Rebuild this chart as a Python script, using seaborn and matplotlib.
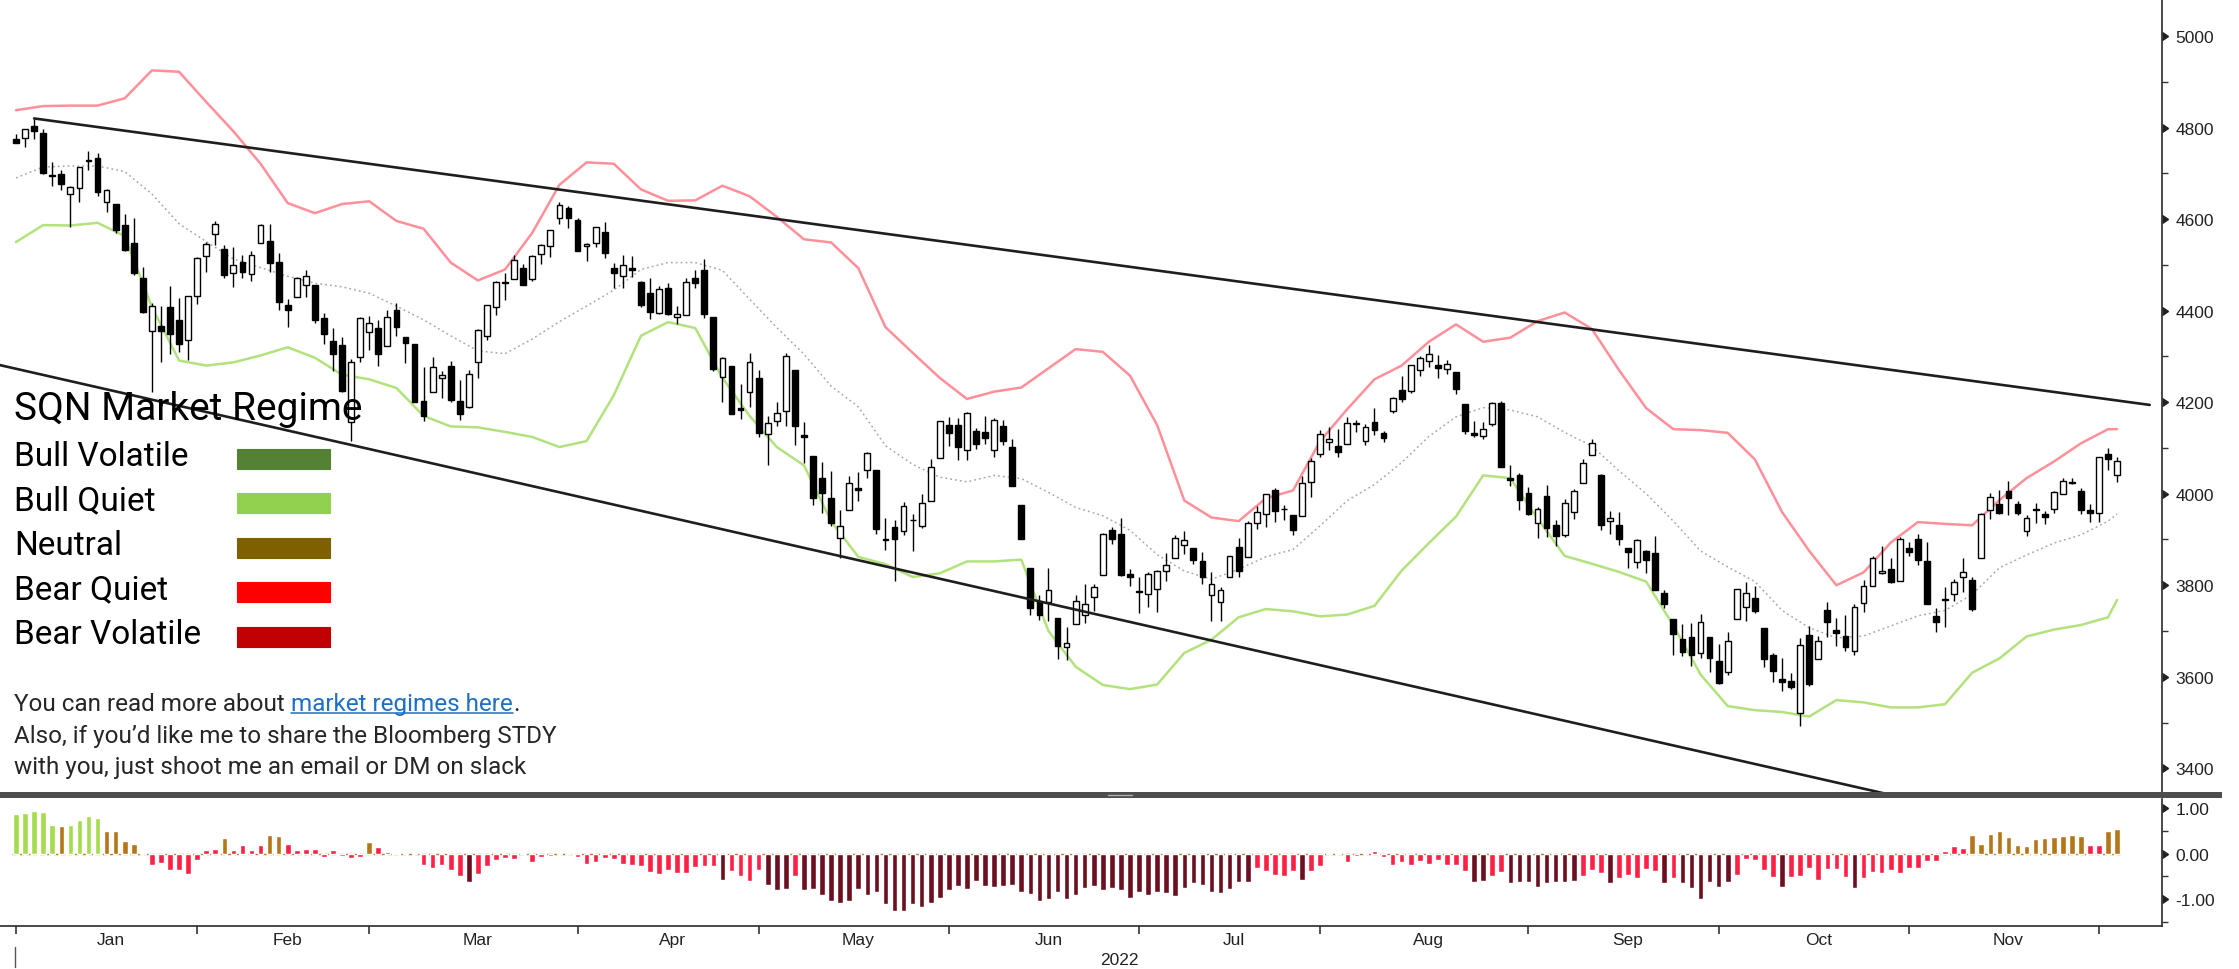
import numpy as np
import matplotlib
matplotlib.use("Agg")
import matplotlib.pyplot as plt
import seaborn as sns
from matplotlib.patches import Rectangle
from matplotlib.lines import Line2D
from matplotlib.ticker import MultipleLocator

# sessions per month: Dec-31-2021, Jan..Nov 2022, Dec 1-2
month_sessions = [1, 20, 19, 23, 20, 21, 21, 20, 23, 21, 21, 21, 2]
month_labels = ["Jan", "Feb", "Mar", "Apr", "May", "Jun", "Jul", "Aug", "Sep", "Oct", "Nov"]

opens = [4775.2,
    4778.1, 4804.5, 4788.0, 4693.4, 4697.7, 4655.3, 4669.1, 4728.6, 4733.6, 4638.0, 4632.2, 4588.0, 4547.4, 4471.4, 4356.3, 4366.6, 4408.4, 4380.6, 4336.2, 4431.8,
    4519.6, 4566.4, 4535.4, 4482.8, 4505.8, 4480.0, 4547.0, 4553.2, 4506.3, 4412.6, 4429.3, 4455.8, 4456.1, 4384.6, 4332.7, 4324.9, 4155.8, 4298.4, 4354.2,
    4363.1, 4322.6, 4401.3, 4342.1, 4327.0, 4202.7, 4223.1, 4252.6, 4279.5, 4202.8, 4188.8, 4288.1, 4345.1, 4407.3, 4462.4, 4469.1, 4493.1, 4470.0, 4522.9, 4541.1, 4602.9, 4624.2, 4599.0,
    4540.3, 4548.0, 4572.5, 4494.2, 4474.7, 4494.2, 4462.6, 4437.6, 4394.3, 4449.1, 4385.6, 4390.6, 4472.3, 4489.2, 4385.8, 4255.3, 4278.1, 4186.5, 4222.6, 4253.8,
    4130.6, 4159.8, 4181.2, 4270.4, 4128.2, 4081.3, 4035.2, 3990.1, 3904.0, 3963.9, 4013.0, 4052.0, 4052.0, 3899.0, 3927.8, 3919.4, 3942.9, 3929.6, 3984.6, 4077.4, 4151.1,
    4149.8, 4095.4, 4137.6, 4134.7, 4096.5, 4147.1, 4101.7, 3974.4, 3838.2, 3763.5, 3764.1, 3728.2, 3665.9, 3715.3, 3733.9, 3774.7, 3821.8, 3920.8, 3913.0, 3825.1, 3786.0,
    3781.0, 3792.6, 3832.0, 3858.9, 3888.3, 3880.9, 3852.0, 3779.7, 3764.0, 3818.0, 3883.8, 3860.7, 3935.3, 3955.5, 4007.4, 3965.7, 3953.2, 3951.4, 4026.1, 4087.3,
    4112.4, 4104.2, 4108.0, 4154.9, 4115.9, 4155.9, 4133.1, 4181.0, 4227.4, 4225.0, 4269.4, 4290.5, 4280.4, 4273.1, 4266.3, 4195.1, 4133.1, 4126.6, 4153.3, 4198.7, 4034.6, 4041.3, 4000.7,
    3936.7, 3994.7, 3930.9, 3909.4, 3959.9, 4022.9, 4083.7, 4041.2, 3940.7, 3932.2, 3881.0, 3849.9, 3875.2, 3871.4, 3782.4, 3727.1, 3682.7, 3686.4, 3651.9, 3687.0, 3633.5,
    3609.8, 3726.5, 3753.3, 3772.0, 3706.7, 3647.5, 3595.9, 3590.8, 3520.4, 3690.4, 3638.7, 3746.3, 3703.1, 3689.1, 3657.1, 3762.0, 3799.4, 3826.0, 3834.7, 3808.3, 3881.9,
    3901.8, 3852.9, 3733.3, 3767.0, 3780.7, 3817.0, 3810.9, 3859.9, 3963.7, 3978.0, 4006.4, 3976.8, 3919.3, 3966.4, 3956.2, 3965.5, 4000.3, 4023.3, 4005.4, 3964.2, 3957.2,
    4087.1, 4040.2]

highs = [4786.8,
    4796.6, 4818.6, 4797.7, 4725.0, 4708.0, 4673.0, 4714.1, 4748.8, 4744.1, 4665.1, 4632.2, 4611.6, 4602.1, 4494.5, 4417.4, 4411.0, 4453.2, 4428.7, 4432.7, 4516.9,
    4550.5, 4595.3, 4542.9, 4539.7, 4521.9, 4531.3, 4590.0, 4588.9, 4526.3, 4426.2, 4472.8, 4489.6, 4456.1, 4394.6, 4362.1, 4341.5, 4294.7, 4385.3, 4388.8,
    4378.5, 4401.5, 4416.8, 4342.1, 4327.0, 4276.9, 4299.4, 4268.3, 4291.0, 4247.6, 4271.1, 4358.9, 4412.7, 4465.4, 4481.8, 4522.0, 4501.1, 4520.6, 4546.0, 4575.7, 4637.3, 4627.8, 4603.1,
    4548.7, 4583.5, 4593.5, 4503.9, 4521.2, 4520.4, 4464.4, 4471.0, 4453.9, 4460.5, 4410.3, 4471.0, 4488.3, 4512.9, 4385.8, 4299.0, 4278.1, 4240.7, 4308.5, 4269.7,
    4169.8, 4200.1, 4307.7, 4270.4, 4157.7, 4081.3, 4068.8, 4049.1, 3964.8, 4038.9, 4046.5, 4090.7, 4052.0, 3946.0, 3943.4, 3981.9, 3955.7, 3999.3, 4075.1, 4158.5, 4168.3,
    4166.5, 4177.5, 4142.7, 4168.8, 4164.9, 4160.1, 4119.1, 3974.4, 3838.2, 3778.2, 3837.6, 3728.2, 3707.7, 3779.7, 3801.8, 3802.6, 3913.7, 3927.7, 3945.9, 3836.5, 3819.0,
    3829.8, 3832.2, 3870.9, 3910.6, 3918.5, 3880.9, 3873.4, 3829.4, 3796.4, 3863.6, 3902.4, 3939.8, 3974.1, 3999.3, 4012.4, 3975.3, 3953.2, 4039.6, 4079.0, 4140.2,
    4145.0, 4140.5, 4167.7, 4161.3, 4151.6, 4186.6, 4137.3, 4211.0, 4257.9, 4280.5, 4301.8, 4325.3, 4302.2, 4292.5, 4266.3, 4195.1, 4159.8, 4156.6, 4200.5, 4203.0, 4063.0, 4045.0, 4015.4,
    3970.2, 4018.4, 3942.6, 3987.9, 4010.5, 4076.8, 4119.3, 4043.0, 3961.9, 3959.3, 3881.0, 3900.5, 3876.0, 3907.1, 3790.2, 3727.1, 3715.7, 3717.5, 3736.7, 3687.0, 3671.4,
    3698.4, 3791.9, 3806.9, 3797.9, 3706.7, 3652.2, 3640.7, 3608.3, 3685.4, 3712.0, 3689.7, 3762.8, 3728.6, 3736.0, 3757.9, 3810.7, 3862.8, 3886.2, 3860.0, 3905.4, 3893.7,
    3911.8, 3894.4, 3750.6, 3796.3, 3814.0, 3859.4, 3818.2, 3958.3, 4001.5, 4009.0, 4028.8, 3983.1, 3954.3, 3979.9, 3962.0, 4005.9, 4033.8, 4034.0, 4012.3, 3976.8, 4080.1,
    4100.5, 4080.5]

lows = [4765.8,
    4758.2, 4774.3, 4699.4, 4671.3, 4662.7, 4582.2, 4638.3, 4706.7, 4650.3, 4614.8, 4568.7, 4530.2, 4478.0, 4395.3, 4222.6, 4287.1, 4304.8, 4309.5, 4292.5, 4414.0,
    4483.5, 4544.3, 4470.4, 4451.5, 4471.5, 4465.4, 4547.0, 4484.3, 4401.4, 4364.8, 4429.3, 4429.7, 4373.8, 4327.2, 4267.1, 4221.5, 4114.7, 4286.8, 4315.1,
    4279.5, 4322.6, 4345.6, 4285.0, 4199.9, 4157.9, 4223.1, 4209.8, 4200.5, 4161.7, 4187.9, 4252.0, 4335.7, 4390.6, 4424.3, 4469.1, 4455.8, 4465.2, 4501.1, 4517.7, 4589.7, 4581.3, 4530.4,
    4507.6, 4539.2, 4514.2, 4450.0, 4450.3, 4474.6, 4408.4, 4381.3, 4392.7, 4390.8, 4370.3, 4390.6, 4448.8, 4384.5, 4267.6, 4200.8, 4175.0, 4162.9, 4188.6, 4124.3,
    4062.5, 4147.1, 4148.9, 4106.0, 4067.9, 3975.5, 3958.2, 3928.8, 3858.9, 3963.9, 3984.0, 4033.9, 3911.9, 3876.6, 3810.3, 3909.0, 3875.1, 3925.0, 3984.6, 4077.4, 4104.9,
    4073.9, 4074.4, 4098.7, 4109.2, 4080.2, 4107.2, 4017.2, 3900.2, 3734.3, 3724.1, 3722.3, 3639.8, 3636.9, 3715.3, 3717.7, 3743.5, 3821.8, 3889.7, 3820.1, 3799.0, 3738.7,
    3752.1, 3742.1, 3809.4, 3858.9, 3869.3, 3847.2, 3802.4, 3721.6, 3721.6, 3817.2, 3818.6, 3860.7, 3922.0, 3927.6, 3938.9, 3943.5, 3910.7, 3951.4, 3993.0, 4079.2,
    4096.0, 4079.8, 4108.0, 4135.4, 4107.3, 4129.0, 4112.1, 4177.3, 4201.4, 4219.8, 4256.9, 4277.8, 4253.1, 4262.0, 4218.7, 4129.9, 4124.0, 4120.0, 4147.6, 4057.7, 4017.4, 3965.2, 3954.5,
    3903.7, 3906.2, 3886.8, 3906.0, 3944.8, 4022.9, 4083.7, 3921.7, 3912.2, 3888.3, 3837.1, 3838.5, 3827.5, 3789.5, 3749.5, 3647.5, 3644.8, 3623.3, 3640.6, 3610.4, 3584.1,
    3604.9, 3726.5, 3722.7, 3739.2, 3620.7, 3588.1, 3568.5, 3573.9, 3491.6, 3579.7, 3638.7, 3686.5, 3666.5, 3656.4, 3647.4, 3741.7, 3799.4, 3824.1, 3803.8, 3808.3, 3863.2,
    3843.8, 3758.7, 3698.2, 3708.8, 3764.7, 3786.3, 3744.2, 3859.9, 3944.8, 3956.4, 3953.2, 3954.3, 3906.5, 3936.0, 3933.3, 3956.9, 3998.7, 4020.8, 3955.8, 3937.7, 3938.6,
    4050.9, 4026.6]

closes = [4766.2,
    4796.6, 4793.5, 4700.6, 4696.1, 4677.0, 4670.3, 4713.1, 4726.4, 4659.0, 4662.9, 4577.1, 4532.8, 4482.7, 4397.9, 4410.1, 4356.5, 4349.9, 4326.5, 4431.9, 4515.6,
    4546.5, 4589.4, 4477.4, 4500.5, 4483.9, 4521.5, 4587.2, 4504.1, 4418.6, 4401.7, 4471.1, 4475.0, 4380.3, 4348.9, 4304.8, 4225.5, 4288.7, 4384.7, 4373.9,
    4306.3, 4386.5, 4363.5, 4328.9, 4201.1, 4170.7, 4277.9, 4259.5, 4204.3, 4173.1, 4262.5, 4357.9, 4411.7, 4463.1, 4461.2, 4511.6, 4456.2, 4520.2, 4543.1, 4575.5, 4631.6, 4602.5, 4530.4,
    4545.9, 4582.6, 4525.1, 4481.2, 4500.2, 4488.3, 4412.5, 4397.5, 4446.6, 4392.6, 4391.7, 4462.2, 4459.5, 4393.7, 4271.8, 4296.1, 4175.2, 4184.0, 4287.5, 4131.9,
    4155.4, 4175.5, 4300.2, 4146.9, 4123.3, 3991.2, 4001.1, 3935.2, 3930.1, 4023.9, 4008.0, 4088.9, 3923.7, 3900.8, 3901.4, 3973.8, 3941.5, 3978.7, 4057.8, 4158.2, 4132.2,
    4101.2, 4176.8, 4108.5, 4121.4, 4160.7, 4115.8, 4017.8, 3900.9, 3749.6, 3735.5, 3790.0, 3666.8, 3674.8, 3764.8, 3759.9, 3795.7, 3911.7, 3900.1, 3821.6, 3818.8, 3785.4,
    3825.3, 3831.4, 3845.1, 3902.6, 3899.4, 3854.4, 3818.8, 3801.8, 3790.4, 3863.2, 3830.9, 3936.7, 3959.9, 3999.0, 3961.6, 3966.8, 3921.1, 4023.6, 4072.4, 4130.3,
    4118.6, 4091.2, 4155.2, 4151.9, 4145.2, 4140.1, 4122.5, 4210.2, 4207.3, 4280.2, 4297.1, 4305.2, 4274.0, 4283.7, 4228.5, 4138.0, 4128.7, 4140.8, 4199.1, 4057.7, 4030.6, 3986.2, 3955.0,
    3966.9, 3924.3, 3908.2, 3979.9, 4006.2, 4067.4, 4110.4, 3932.7, 3946.0, 3901.4, 3873.3, 3899.9, 3855.9, 3789.9, 3758.0, 3693.2, 3655.0, 3647.3, 3719.0, 3640.5, 3585.6,
    3678.4, 3790.9, 3783.3, 3744.5, 3639.7, 3612.4, 3588.8, 3577.0, 3669.9, 3583.1, 3678.0, 3720.0, 3695.2, 3665.8, 3752.8, 3797.3, 3859.1, 3830.6, 3807.3, 3901.1, 3872.0,
    3856.1, 3759.7, 3719.9, 3770.6, 3806.8, 3828.1, 3748.6, 3956.4, 3992.9, 3957.3, 3991.7, 3958.8, 3946.6, 3965.3, 3949.9, 4003.6, 4027.3, 4026.1, 3963.9, 3957.6, 4080.1,
    4076.6, 4071.7]

# bands read every third session
band_days = list(range(0, 232, 3)) + [232]
upper_band = [4838, 4847, 4848, 4848, 4864, 4925, 4922, 4856, 4792, 4721, 4635, 4613, 4633, 4639, 4596, 4579,
              4505, 4466, 4490, 4570, 4675, 4724, 4721, 4665, 4640, 4641, 4673, 4650, 4605, 4556, 4549, 4493,
              4364, 4308, 4253, 4207, 4223, 4232, 4274, 4316, 4310, 4258, 4150, 3985, 3948, 3940, 3990, 4007,
              4115, 4185, 4250, 4280, 4332, 4370, 4332, 4341, 4377, 4396, 4360, 4270, 4187, 4141, 4139, 4133,
              4075, 3960, 3875, 3800, 3828, 3893, 3938, 3934, 3931, 3986, 4034, 4070, 4110, 4141, 4141]
middle_band = [4690, 4714, 4716, 4716, 4704, 4655, 4590, 4551, 4513, 4494, 4475, 4460, 4452, 4438, 4410, 4380,
               4345, 4312, 4306, 4338, 4376, 4410, 4445, 4490, 4505, 4505, 4488, 4425, 4363, 4305, 4235, 4190,
               4105, 4064, 4036, 4026, 4040, 4033, 4003, 3970, 3952, 3920, 3867, 3831, 3813, 3835, 3862, 3878,
               3930, 3985, 4020, 4068, 4125, 4168, 4188, 4183, 4168, 4134, 4104, 4050, 4000, 3940, 3875, 3840,
               3808, 3745, 3707, 3685, 3689, 3711, 3733, 3745, 3780, 3838, 3866, 3892, 3910, 3940, 3956]
lower_band = [4550, 4587, 4586, 4592, 4563, 4408, 4291, 4280, 4287, 4302, 4320, 4297, 4260, 4250, 4231, 4170,
              4147, 4145, 4135, 4124, 4102, 4115, 4215, 4345, 4375, 4362, 4253, 4170, 4102, 4062, 3940, 3862,
              3846, 3818, 3826, 3852, 3852, 3856, 3700, 3622, 3582, 3573, 3583, 3652, 3681, 3730, 3748, 3743,
              3732, 3736, 3755, 3832, 3892, 3950, 4040, 4034, 3946, 3864, 3847, 3829, 3808, 3712, 3605, 3536,
              3527, 3523, 3513, 3549, 3544, 3533, 3533, 3540, 3609, 3640, 3688, 3703, 3713, 3730, 3768]

# channel lines
upper_trend_days = [2, 235.6]
upper_trend_vals = [4820, 4194]
lower_trend_days = [-2, 237]
lower_trend_vals = [4282, 3207]

# SQN histogram and regime per session (G bull quiet, N neutral, R bear quiet, D bear volatile)
sqn_values = [0.88, 0.90, 0.94, 0.91, 0.63, 0.61, 0.63, 0.74, 0.83, 0.78, 0.50, 0.50, 0.27, 0.21, 0.01, -0.26, -0.20, -0.35, -0.37, -0.44, -0.13,
    0.08, 0.10, 0.35, 0.08, 0.18, 0.08, 0.18, 0.41, 0.39, 0.22, 0.08, 0.11, 0.10, -0.07, 0.07, -0.05, -0.10, -0.07, 0.25,
    0.14, 0.03, 0.02, 0.01, 0.01, -0.24, -0.32, -0.24, -0.35, -0.50, -0.62, -0.45, -0.27, -0.14, -0.10, -0.12, 0.01, -0.18, -0.07, -0.05, 0.01, 0.01, -0.07,
    -0.22, -0.19, -0.10, -0.12, -0.22, -0.25, -0.27, -0.41, -0.44, -0.35, -0.43, -0.42, -0.29, -0.28, -0.28, -0.58, -0.38, -0.49, -0.60, -0.35,
    -0.69, -0.81, -0.78, -0.49, -0.81, -0.78, -0.91, -1.04, -1.09, -1.04, -0.78, -0.91, -0.85, -1.11, -1.25, -1.25, -1.11, -1.17, -1.09, -0.97, -0.81,
    -0.71, -0.78, -0.60, -0.71, -0.73, -0.71, -0.69, -0.84, -0.89, -1.04, -1.00, -0.84, -1.00, -0.91, -0.75, -0.71, -0.81, -0.75, -0.81, -0.98, -0.84,
    -0.91, -0.84, -0.87, -0.94, -0.75, -0.64, -0.69, -0.85, -0.87, -0.78, -0.62, -0.62, -0.32, -0.38, -0.48, -0.49, -0.38, -0.58, -0.38, -0.28,
    0.01, 0.01, -0.18, -0.05, 0.02, 0.05, -0.08, -0.24, -0.19, -0.26, -0.17, -0.22, -0.13, -0.26, -0.24, -0.38, -0.63, -0.61, -0.49, -0.40, -0.65, -0.63, -0.63,
    -0.73, -0.65, -0.63, -0.63, -0.61, -0.49, -0.37, -0.43, -0.65, -0.54, -0.46, -0.54, -0.33, -0.38, -0.65, -0.54, -0.65, -0.75, -0.99, -0.63, -0.73,
    -0.63, -0.46, -0.12, -0.15, -0.35, -0.52, -0.73, -0.52, -0.49, -0.31, -0.58, -0.33, -0.34, -0.52, -0.75, -0.54, -0.40, -0.43, -0.37, -0.43, -0.31,
    -0.31, -0.16, -0.16, 0.05, 0.17, 0.13, 0.40, 0.22, 0.44, 0.49, 0.37, 0.20, 0.17, 0.32, 0.34, 0.36, 0.39, 0.41, 0.39, 0.19, 0.19,
    0.50, 0.55]
sqn_regime = list("GGGGGNGGGGNNNNNRRRRRR"
                  "RRNRRRRNNRRRRRRRRRN"
                  "RRNNNRRRRRDRRRRRNRRNNNR"
                  "RRRRRRRRRRRRRRRDRRRR"
                  "DDDRDDDDDDDDDDDDDDDDD"
                  "DDDDDDDDDDDDDDDDDDDDD"
                  "DDDDDDDDDDDDRRRRRDRR"
                  "NNRRNRRRRRRRRRRRDDRRDDD"
                  "DDDDDRRRDRRRRRDRDDDDD"
                  "DRRRRRDRRRRRRRDRRRRRR"
                  "RRRRRRNNNNNNNNNNNNNRR"
                  "NN")

regime_bar_colors = {"G": "#A5DC4E", "N": "#B5761A", "R": "#FF2045", "D": "#6C0F1E"}
legend_names = ["Bull Volatile", "Bull Quiet", "Neutral", "Bear Quiet", "Bear Volatile"]
legend_colors = ["#548235", "#92D050", "#7F6000", "#FF0000", "#C00000"]

sns.set_theme(style="white")
plt.rcParams["font.family"] = ["Liberation Sans", "DejaVu Sans"]

W, H = 2239, 970
fig = plt.figure(figsize=(W / 100, H / 100), dpi=100)
ax = fig.add_axes([0, 1 - 794 / H, 2161.5 / W, 794 / H])
ax2 = fig.add_axes([0, 1 - 927 / H, 2161.5 / W, (927 - 800) / H])

n = len(closes)
days = np.arange(n)
o = np.array(opens)
c = np.array(closes)
starts = np.cumsum([0] + month_sessions[:-1])
month_ticks = starts[1:] - 1          # Bloomberg marks the last session of each month
month_centers = starts[1:12] + (np.array(month_sessions[1:12]) - 1) / 2
xlim = (-1.77, 236.9)

# bands and channel
sns.lineplot(x=band_days, y=upper_band, ax=ax, color="#FF8F98", linewidth=1.8,
             estimator=None, sort=False, legend=False, zorder=2)
sns.lineplot(x=band_days, y=lower_band, ax=ax, color="#B2E27C", linewidth=1.8,
             estimator=None, sort=False, legend=False, zorder=2)
sns.lineplot(x=band_days, y=middle_band, ax=ax, color="#A8A8A8", linewidth=1.1,
             linestyle=(0, (1.2, 2.0)), estimator=None, sort=False, legend=False, zorder=2)
sns.lineplot(x=upper_trend_days, y=upper_trend_vals, ax=ax, color="#1E1E1E", linewidth=1.9,
             estimator=None, sort=False, legend=False, zorder=5)
sns.lineplot(x=lower_trend_days, y=lower_trend_vals, ax=ax, color="#1E1E1E", linewidth=1.9,
             estimator=None, sort=False, legend=False, zorder=5)

# candles
ax.vlines(days, lows, highs, color="black", linewidth=1.0, zorder=3)
body = np.maximum(np.abs(c - o), 1.0)
ax.bar(days, body, bottom=np.minimum(o, c), width=0.64,
       color=np.where(c >= o, "white", "black"), edgecolor="black", linewidth=1.0, zorder=4)

ax.set_xlim(xlim)
ax.set_ylim(3346, 5081)
ax.set_xticks([])
for s in ["top", "left", "bottom"]:
    ax.spines[s].set_visible(False)
ax.spines["right"].set_color("#2A2A2A")
ax.spines["right"].set_linewidth(1.2)
ax.yaxis.tick_right()
ax.set_yticks(range(3400, 5001, 200))
ax.yaxis.set_minor_locator(MultipleLocator(100))
ax.tick_params(axis="y", which="major", length=6, width=1, pad=4, labelsize=12.5, colors="#222222")
ax.tick_params(axis="y", which="minor", length=4, width=1, colors="#333333")
ax.set_ylabel("")

# SQN panel
ax2.bar(days, sqn_values, width=0.62, color=[regime_bar_colors[r] for r in sqn_regime], zorder=3)
ax2.hlines(0, -0.5, n - 0.5, color="#B5761A", linewidth=1.0, linestyle=(0, (3, 2)), zorder=2)
ax2.set_xlim(xlim)
ax2.set_ylim(-1.59, 1.20)
for s in ["top", "left"]:
    ax2.spines[s].set_visible(False)
for s in ["right", "bottom"]:
    ax2.spines[s].set_color("#2A2A2A")
    ax2.spines[s].set_linewidth(1.2)
ax2.yaxis.tick_right()
ax2.set_yticks([-1, 0, 1])
ax2.set_yticklabels(["-1.00", "0.00", "1.00"])
ax2.yaxis.set_minor_locator(MultipleLocator(0.5))
ax2.tick_params(axis="y", which="major", length=6, width=1, pad=4, labelsize=12.5, colors="#222222")
ax2.tick_params(axis="y", which="minor", length=4, width=1, colors="#333333")
ax2.set_xticks(month_centers)
ax2.set_xticklabels(month_labels)
ax2.set_xticks(month_ticks, minor=True)
ax2.tick_params(axis="x", which="major", length=0, pad=4.5, labelsize=12.5, colors="#222222")
ax2.tick_params(axis="x", which="minor", length=6, width=1.2, colors="#333333", bottom=True)

for a in (ax, ax2):
    for t in a.yaxis.get_major_ticks():
        t.tick2line.set_marker(9)
        t.tick2line.set_markersize(6)

fig.text(1119 / W, 1 - 961 / H, "2022", ha="center", va="center", fontsize=12.5, color="#222222")
fig.add_artist(Line2D([15 / W, 15 / W], [1 - 948 / H, 1 - 968 / H], color="#555555", linewidth=1))

# separator bar between panels
fig.add_artist(Rectangle((0, 1 - 799 / H), 2222 / W, 6 / H, transform=fig.transFigure,
                         facecolor="#4E4E4E", edgecolor="none"))
fig.add_artist(Line2D([1108 / W, 1132 / W], [1 - 796 / H, 1 - 796 / H], color="#B0B0B0", linewidth=1))

# regime legend
txt_font = ["Roboto", "DejaVu Sans"]
fig.text(14.5 / W, 1 - 420 / H, "SQN Market Regime", fontsize=28, family=txt_font,
         va="baseline", color="black")
for k, (name, col) in enumerate(zip(legend_names, legend_colors)):
    base = 466 + 44.6 * k
    fig.text(14.5 / W, 1 - base / H, name, fontsize=24, family=txt_font, va="baseline", color="black")
    fig.add_artist(Rectangle((236.5 / W, 1 - (base + 3.5) / H), 93 / W, 20 / H,
                             transform=fig.transFigure, facecolor=col,
                             edgecolor=col, linewidth=0.8))

# note text with link
note_size = 17.5
t1 = fig.text(14.5 / W, 1 - 711 / H, "You can read more about", fontsize=note_size,
              family=txt_font, va="baseline", color="#262626")
renderer = fig.canvas.get_renderer()
bb1 = t1.get_window_extent(renderer)
link_x = bb1.x1 + 6
t2 = fig.text(link_x / W, 1 - 711 / H, "market regimes here", fontsize=note_size,
              family=txt_font, va="baseline", color="#1F6FC5")
bb2 = t2.get_window_extent(renderer)
fig.text(bb2.x1 / W, 1 - 711 / H, ".", fontsize=note_size, family=txt_font,
         va="baseline", color="#262626")
fig.add_artist(Line2D([bb2.x0 / W, bb2.x1 / W], [1 - 714 / H, 1 - 714 / H],
                      color="#1F6FC5", linewidth=1.1))
fig.text(14.5 / W, 1 - 743 / H, "Also, if you\u2019d like me to share the Bloomberg STDY",
         fontsize=note_size, family=txt_font, va="baseline", color="#262626")
fig.text(14.5 / W, 1 - 774 / H, "with you, just shoot me an email or DM on slack",
         fontsize=note_size, family=txt_font, va="baseline", color="#262626")

fig.savefig("out.png", dpi=100, facecolor="white")
